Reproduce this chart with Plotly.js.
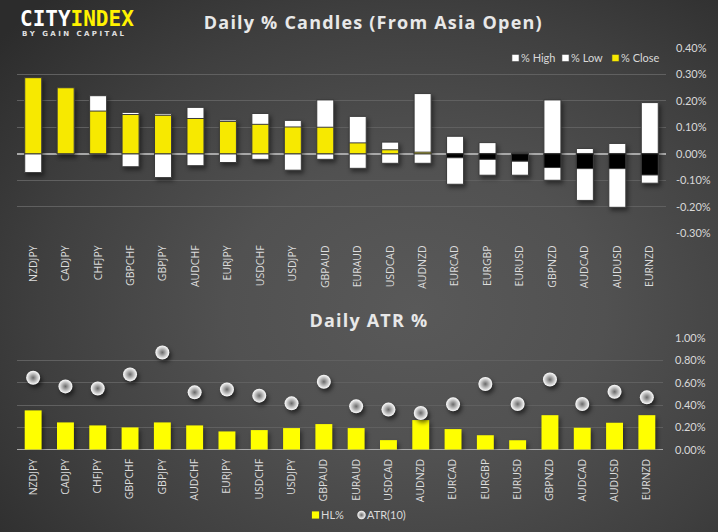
<!DOCTYPE html>
<html>
<head>
<meta charset="utf-8">
<script src="https://cdn.plot.ly/plotly-3.0.1.min.js"></script>
<style>
  html, body { margin: 0; padding: 0; background: #2e2e2e; }
  #chart {
    width: 718px; height: 532px;
    background: radial-gradient(ellipse 75% 80% at 58% 58%, #595959 0%, #515151 35%, #3f3f3f 70%, #2c2c2c 100%);
  }
  .barlayer .point path { filter: drop-shadow(2px 3px 2px rgba(0,0,0,0.45)); }
  .barlayer .trace:nth-child(3) .point path { filter: none; }
  .scatterlayer .point { filter: drop-shadow(2px 3px 2px rgba(0,0,0,0.55)); }
  .infolayer > g[class^="legend"] .traces .legendpoints path { transform: translate(34.5px, 0px) scale(0.6); }
  .infolayer > g[class^="legend"] .scrollbox,
  .infolayer > g[class^="legend"] .scrollbox * { clip-path: none !important; }
  .annotation-text.ttl { letter-spacing: 1.2px; }
</style>
</head>
<body>
<div id="chart"></div>
<script>
const categories = ['NZDJPY','CADJPY','CHFJPY','GBPCHF','GBPJPY','AUDCHF','EURJPY','USDCHF','USDJPY','GBPAUD','EURAUD','USDCAD','AUDNZD','EURCAD','EURGBP','EURUSD','GBPNZD','AUDCAD','AUDUSD','EURNZD'];
const pctHigh  = [0.287,0.249,0.219,0.156,0.151,0.175,0.128,0.152,0.126,0.203,0.141,0.044,0.227,0.066,0.042,0.005,0.203,0.020,0.039,0.193];
const pctLow   = [-0.071,0,0,-0.049,-0.090,-0.045,-0.033,-0.021,-0.062,-0.021,-0.055,-0.036,-0.036,-0.115,-0.081,-0.081,-0.100,-0.176,-0.202,-0.111];
const pctClose = [0.287,0.249,0.161,0.148,0.145,0.133,0.122,0.111,0.101,0.100,0.041,0.015,0.006,-0.015,-0.021,-0.028,-0.052,-0.056,-0.056,-0.080];
const hlPct    = [0.353,0.245,0.218,0.200,0.245,0.218,0.164,0.176,0.194,0.230,0.194,0.086,0.266,0.185,0.130,0.085,0.310,0.197,0.242,0.310];
const atr10    = [0.646,0.568,0.550,0.676,0.873,0.515,0.541,0.485,0.416,0.610,0.389,0.360,0.330,0.407,0.590,0.410,0.630,0.410,0.520,0.470];
const yTicksTop = [-0.3,-0.2,-0.1,0,0.1,0.2,0.3,0.4];
const yTicksBottom = [0,0.2,0.4,0.6,0.8,1.0];

const W = 718, H = 532, ML = 17, MR = 52;
const px = x => (x - ML) / (W - ML - MR);
const py = y => 1 - y / H;

const YEL = '#f7e900';
const outline = {color: '#3a3a3a', width: 1};

const traces = [
  {type:'bar', name:'% High', x:categories, y:pctHigh, xaxis:'x', yaxis:'y',
   marker:{color:'#ffffff', line:outline}, legend:'legend', hoverinfo:'skip'},
  {type:'bar', name:'% Low', x:categories, y:pctLow, xaxis:'x', yaxis:'y',
   marker:{color:'#ffffff', line:outline}, legend:'legend', hoverinfo:'skip'},
  {type:'bar', name:'% Close', x:categories, y:pctClose, xaxis:'x', yaxis:'y',
   marker:{color:pctClose.map(v => v >= 0 ? YEL : '#000000'), line:outline}, legend:'legend', hoverinfo:'skip'},
  {type:'bar', name:'HL%', x:categories, y:hlPct, xaxis:'x2', yaxis:'y2',
   marker:{color:'#ffff00'}, legend:'legend2', hoverinfo:'skip'},
  {type:'scatter', mode:'markers', name:'ATR(10)', x:categories, y:atr10, xaxis:'x2', yaxis:'y2',
   marker:{size:14, color:'#ffffff', gradient:{type:'radial', color:'#6a6a6a'}, line:{width:0}},
   legend:'legend2', hoverinfo:'skip'}
];

const tickFont = {family:'Lato, "Open Sans", sans-serif', size:11, color:'#d9d9d9'};
const catFont = {family:'"Open Sans", sans-serif', size:10.5, color:'#dddddd'};
const catRange = [-0.5, categories.length - 0.5];

const layout = {
  width: W, height: H,
  margin: {l: ML, r: MR, t: 0, b: 0},
  paper_bgcolor: 'rgba(0,0,0,0)',
  plot_bgcolor: 'rgba(0,0,0,0)',
  barmode: 'overlay',
  bargap: 0.476,
  showlegend: true,
  xaxis: {domain:[0,1], anchor:'y', type:'category', range:catRange, tickangle:-90, tickfont:catFont,
          showgrid:false, showline:false, zeroline:false, ticks:'', ticklabelstandoff:9, fixedrange:true},
  yaxis: {domain:[py(233.3), py(47.7)], anchor:'x', side:'right', range:[-0.3,0.4],
          tickvals:yTicksTop, ticktext:yTicksTop.map(v => v.toFixed(2) + '%'), tickfont:tickFont,
          showgrid:true, gridcolor:'#606060', gridwidth:1, zeroline:true, zerolinecolor:'#a8a8a8', zerolinewidth:1.5,
          showline:false, ticks:'', ticklabelstandoff:9, fixedrange:true},
  xaxis2: {domain:[0, px(663)], anchor:'y2', type:'category', range:catRange, tickangle:-90, tickfont:catFont,
          showgrid:false, showline:false, zeroline:false, ticks:'', ticklabelstandoff:6, fixedrange:true},
  yaxis2: {domain:[py(449.7), py(338.3)], anchor:'x2', side:'right', range:[0,1.0],
          tickvals:yTicksBottom, ticktext:yTicksBottom.map(v => v.toFixed(2) + '%'), tickfont:tickFont,
          showgrid:true, gridcolor:'#606060', gridwidth:1, zeroline:true, zerolinecolor:'#a8a8a8', zerolinewidth:1.5,
          showline:false, ticks:'', ticklabelstandoff:11, fixedrange:true},
  legend: {orientation:'h', x:px(481), xanchor:'left', y:py(58), yanchor:'middle',
           font:{family:'Lato, sans-serif', size:11, color:'#d9d9d9'}, bgcolor:'rgba(0,0,0,0)',
           itemwidth:30, entrywidth:5, entrywidthmode:'pixels', traceorder:'normal'},
  legend2: {orientation:'h', x:px(281), xanchor:'left', y:py(515), yanchor:'middle',
           font:{family:'Lato, sans-serif', size:11, color:'#d9d9d9'}, bgcolor:'rgba(0,0,0,0)',
           itemwidth:30, entrywidth:1, entrywidthmode:'pixels', traceorder:'normal'},
  annotations: [
    {xref:'paper', yref:'paper', x:px(373.5), y:py(22), xanchor:'center', yanchor:'middle', showarrow:false,
     text:'Daily % Candles (From Asia Open)', font:{family:'"Open Sans", sans-serif', size:18, color:'#e8e8e8', weight:'bold'}},
    {xref:'paper', yref:'paper', x:px(369), y:py(320), xanchor:'center', yanchor:'middle', showarrow:false,
     text:'Daily ATR %', font:{family:'"Open Sans", sans-serif', size:18, color:'#e8e8e8', weight:'bold'}},
    {xref:'paper', yref:'paper', x:px(18), y:py(19), xanchor:'left', yanchor:'middle', showarrow:false,
     text:'<span style="color:#ffffff">CITY</span><span style="color:#fff200">INDEX</span>',
     font:{family:'"DejaVu Sans Mono", monospace', size:21, color:'#ffffff', weight:'bold'}},
    {xref:'paper', yref:'paper', x:px(20), y:py(34), xanchor:'left', yanchor:'middle', showarrow:false,
     text:'B Y   G A I N   C A P I T A L',
     font:{family:'"DejaVu Sans", sans-serif', size:7, color:'#e0e0e0', weight:'bold'}}
  ]
};

Plotly.newPlot('chart', traces, layout, {staticPlot:true, displayModeBar:false}).then(gd => {
  const ann = gd.querySelectorAll('.annotation-text');
  if (ann[0]) ann[0].classList.add('ttl');
  if (ann[1]) ann[1].classList.add('ttl');
});
</script>
</body>
</html>
